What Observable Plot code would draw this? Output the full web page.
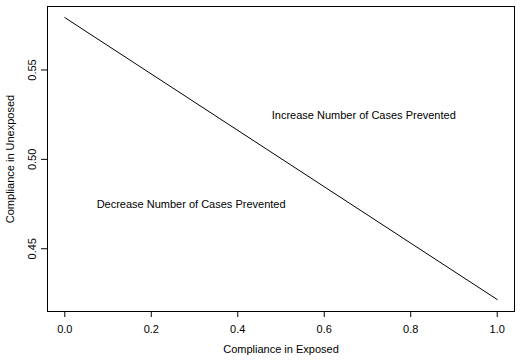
<!DOCTYPE html>
<html>
<head>
<meta charset="utf-8">
<script src="https://cdn.jsdelivr.net/npm/d3@7"></script>
<script src="https://cdn.jsdelivr.net/npm/@observablehq/plot@0.6"></script>
<style>
  html, body { margin: 0; padding: 0; background: #fff; }
  #chart svg { display: block; }
</style>
</head>
<body>
<div id="chart"></div>
<script>
// Data
const complianceExposed = [0, 1];
const complianceUnexposed = [0.5793, 0.4216];
const xTicks = [0, 0.2, 0.4, 0.6, 0.8, 1.0];
const yTicks = [0.45, 0.50, 0.55];
const regionLabels = ["Increase Number of Cases Prevented", "Decrease Number of Cases Prevented"];
const regionX = [0.6914, 0.2921];
const regionY = [0.5244, 0.4745];
const xTitle = "Compliance in Exposed";
const yTitle = "Compliance in Unexposed";

const lineData = complianceExposed.map((x, i) => ({x, y: complianceUnexposed[i]}));
const labelData = regionLabels.map((t, i) => ({t, x: regionX[i], y: regionY[i]}));

const font = "'Liberation Sans', Arial, sans-serif";
const fs = 11;

const chart = Plot.plot({
  width: 521,
  height: 362,
  marginLeft: 47,
  marginRight: 7,
  marginTop: 6,
  marginBottom: 51,
  style: {fontFamily: font, fontSize: fs + "px", background: "#fff", color: "#000"},
  x: {domain: [-0.04, 1.04]},
  y: {domain: [0.4149, 0.5855]},
  marks: [
    Plot.frame({stroke: "#000", strokeWidth: 1}),
    Plot.axisX(xTicks, {tickSize: 6, tickPadding: 8, tickFormat: d3.format(".1f"), label: null, fontSize: fs, stroke: "#000", strokeOpacity: 1}),
    Plot.axisY(yTicks, {tickSize: 6, text: null, label: null, stroke: "#000", strokeOpacity: 1}),
    Plot.text(yTicks, {y: d => d, text: d => d3.format(".2f")(d), frameAnchor: "left", dx: -15, rotate: -90, textAnchor: "middle", fontSize: fs, fill: "#000"}),
    Plot.text([xTitle], {text: d => d, frameAnchor: "bottom", dy: 41, fontSize: fs, fill: "#000"}),
    Plot.text([yTitle], {text: d => d, frameAnchor: "left", dx: -37, rotate: -90, textAnchor: "middle", fontSize: fs, fill: "#000"}),
    Plot.line(lineData, {x: "x", y: "y", stroke: "#000", strokeWidth: 1}),
    Plot.text(labelData, {x: "x", y: "y", text: "t", fontSize: fs, fill: "#000"})
  ]
});
document.getElementById("chart").appendChild(chart);
</script>
</body>
</html>
